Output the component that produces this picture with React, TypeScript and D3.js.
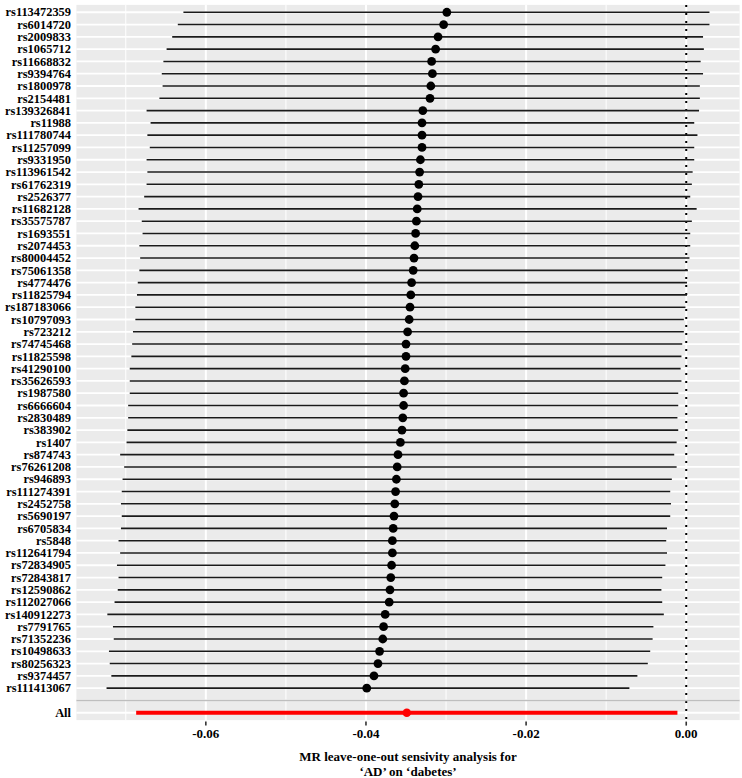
import React from 'react';
import * as d3 from 'd3';

const snps = [
  'rs113472359','rs6014720','rs2009833','rs1065712','rs11668832','rs9394764','rs1800978','rs2154481',
  'rs139326841','rs11988','rs111780744','rs11257099','rs9331950','rs113961542','rs61762319','rs2526377',
  'rs11682128','rs35575787','rs1693551','rs2074453','rs80004452','rs75061358','rs4774476','rs11825794',
  'rs187183066','rs10797093','rs723212','rs74745468','rs11825598','rs41290100','rs35626593','rs1987580',
  'rs6666604','rs2830489','rs383902','rs1407','rs874743','rs76261208','rs946893','rs111274391',
  'rs2452758','rs5690197','rs6705834','rs5848','rs112641794','rs72834905','rs72843817','rs12590862',
  'rs112027066','rs140912273','rs7791765','rs71352236','rs10498633','rs80256323','rs9374457','rs111413067',
];

const estimates = [
  -0.0299,-0.0303,-0.0310,-0.0313,-0.0318,-0.0317,-0.0319,-0.0320,
  -0.0329,-0.0330,-0.0330,-0.0330,-0.0332,-0.0333,-0.0334,-0.0335,
  -0.0336,-0.0337,-0.0338,-0.0339,-0.0340,-0.0341,-0.0343,-0.0344,
  -0.0345,-0.0346,-0.0348,-0.0350,-0.0350,-0.0351,-0.0352,-0.0353,
  -0.0353,-0.0354,-0.0355,-0.0357,-0.0360,-0.0361,-0.0362,-0.0363,
  -0.0364,-0.0365,-0.0366,-0.0367,-0.0367,-0.0368,-0.0369,-0.0370,
  -0.0371,-0.0376,-0.0378,-0.0379,-0.0383,-0.0385,-0.0390,-0.0399,
];

const lowers = [
  -0.0628,-0.0635,-0.0642,-0.0649,-0.0653,-0.0655,-0.0654,-0.0658,
  -0.0674,-0.0669,-0.0673,-0.0670,-0.0674,-0.0673,-0.0674,-0.0677,
  -0.0684,-0.0680,-0.0679,-0.0683,-0.0682,-0.0683,-0.0685,-0.0686,
  -0.0688,-0.0688,-0.0691,-0.0692,-0.0693,-0.0695,-0.0695,-0.0695,
  -0.0697,-0.0697,-0.0698,-0.0699,-0.0707,-0.0702,-0.0704,-0.0705,
  -0.0706,-0.0705,-0.0706,-0.0709,-0.0707,-0.0711,-0.0709,-0.0710,
  -0.0714,-0.0723,-0.0716,-0.0715,-0.0721,-0.0720,-0.0718,-0.0724,
];

const uppers = [
  0.0029,0.0029,0.0021,0.0022,0.0018,0.0021,0.0017,0.0017,
  0.0016,0.0010,0.0014,0.0010,0.0010,0.0008,0.0007,0.0005,
  0.0013,0.0007,0.0005,0.0005,0.0004,0.0002,0.0001,0.0001,
  -0.0001,-0.0003,-0.0003,-0.0005,-0.0006,-0.0007,-0.0006,-0.0010,
  -0.0010,-0.0011,-0.0010,-0.0012,-0.0015,-0.0012,-0.0018,-0.0020,
  -0.0019,-0.0020,-0.0024,-0.0025,-0.0024,-0.0026,-0.0030,-0.0031,
  -0.0030,-0.0028,-0.0041,-0.0042,-0.0045,-0.0048,-0.0061,-0.0071,
];

const allLabel = 'All';
const allEstimate = -0.0349;
const allLower = -0.0687;
const allUpper = -0.0011;

const xMajorTicks = [-0.06, -0.04, -0.02, 0];
const xMinorTicks = [-0.07, -0.05, -0.03, -0.01];
const xTickLabels = ['-0.06', '-0.04', '-0.02', '0.00'];
const titleLines = ['MR leave-one-out sensivity analysis for', '\u2018AD\u2019 on \u2018dabetes\u2019'];

const W = 742;
const H = 778;
const panelLeft = 76.4;
const panelRight = 739.6;
const panelTop = 4.9;
const panelBottom = 720.1;
const FONT = '"Liberation Serif", "Times New Roman", serif';

export default function App() {
  const lo = d3.min([...lowers, allLower])!;
  const hi = d3.max([...uppers, allUpper, 0])!;
  const pad = (hi - lo) * 0.05;
  const x = d3.scaleLinear().domain([lo - pad, hi + pad]).range([panelLeft, panelRight]);
  const levels = [...snps, '', allLabel];
  const y = d3.scalePoint<string>().domain(levels).range([panelTop, panelBottom]).padding(0.6);

  const rows = snps.map((s, i) => ({ snp: s, b: estimates[i], lo: lowers[i], up: uppers[i] }));

  return (
    <svg width={W} height={H} style={{ position: 'absolute', left: 0, top: 0 }} fontFamily={FONT}>
      <rect x={panelLeft} y={panelTop} width={panelRight - panelLeft} height={panelBottom - panelTop} fill="#EBEBEB" />
      {xMinorTicks.map((t) => (
        <line key={'mi' + t} x1={x(t)} x2={x(t)} y1={panelTop} y2={panelBottom} stroke="#fff" strokeWidth={1} />
      ))}
      {levels.map((l, i) => (
        <line key={'hy' + i} x1={panelLeft} x2={panelRight} y1={y(l)!} y2={y(l)!} stroke="#fff" strokeWidth={1.8} />
      ))}
      {xMajorTicks.map((t) => (
        <line key={'ma' + t} x1={x(t)} x2={x(t)} y1={panelTop} y2={panelBottom} stroke="#fff" strokeWidth={2} />
      ))}
      <line x1={x(0)} x2={x(0)} y1={panelTop} y2={panelBottom} stroke="#000" strokeWidth={2} strokeDasharray="2 6" />
      {rows.map((r) => (
        <line key={'e' + r.snp} x1={x(r.lo)} x2={x(r.up)} y1={y(r.snp)!} y2={y(r.snp)!} stroke="#1a1a1a" strokeWidth={1.6} />
      ))}
      <line x1={x(allLower)} x2={x(allUpper)} y1={y(allLabel)!} y2={y(allLabel)!} stroke="#FF0000" strokeWidth={4} />
      {rows.map((r) => (
        <circle key={'p' + r.snp} cx={x(r.b)} cy={y(r.snp)!} r={4.4} fill="#000" />
      ))}
      <circle cx={x(allEstimate)} cy={y(allLabel)!} r={4.3} fill="#FF0000" />
      <line x1={panelLeft} x2={panelRight} y1={y('')!} y2={y('')!} stroke="#BEBEBE" strokeWidth={1.6} />
      {levels.map((l, i) => (
        <text key={'yl' + i} x={71} y={y(l)!} dy="0.34em" textAnchor="end" fontSize={12.4} fontWeight="bold" fill="#000">
          {l}
        </text>
      ))}
      {xMajorTicks.map((t, i) => (
        <g key={'xt' + t}>
          <line x1={x(t)} x2={x(t)} y1={panelBottom + 1.5} y2={panelBottom + 5.5} stroke="#333" strokeWidth={1.6} />
          <text x={x(t)} y={738} textAnchor="middle" fontSize={13} fontWeight="bold" fill="#000">
            {xTickLabels[i]}
          </text>
        </g>
      ))}
      {titleLines.map((t, i) => (
        <text key={'ti' + i} x={(panelLeft + panelRight) / 2} y={761 + i * 14.5} textAnchor="middle" fontSize={13} fontWeight="bold" fill="#000">
          {t}
        </text>
      ))}
    </svg>
  );
}
